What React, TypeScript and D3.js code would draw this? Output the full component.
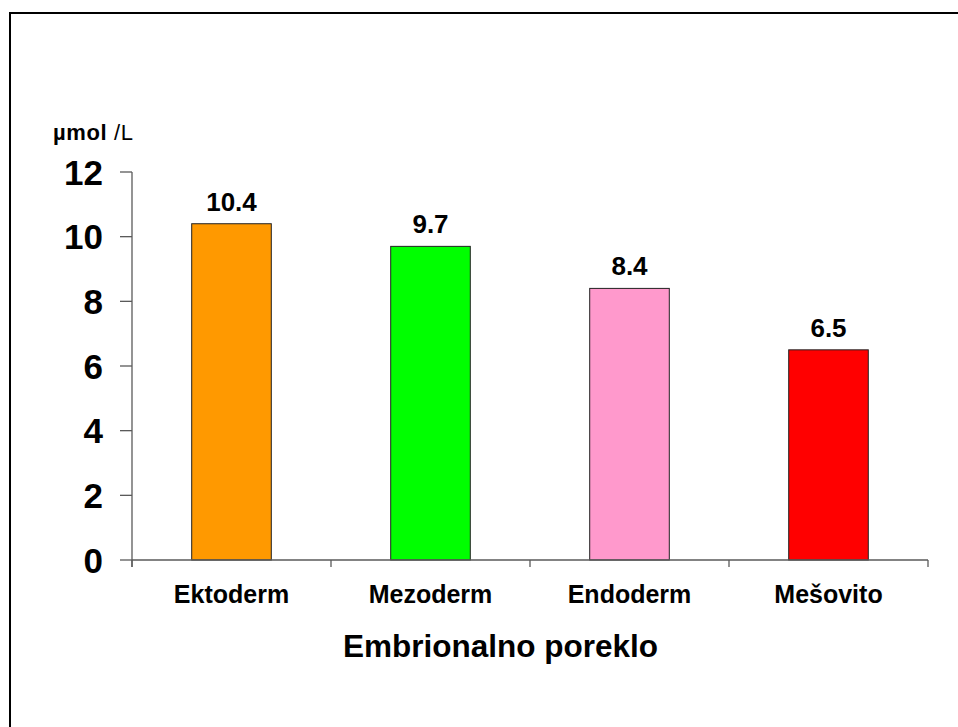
import React from "react";
import * as d3 from "d3";

const categories = ["Ektoderm", "Mezoderm", "Endoderm", "Mešovito"];
const values = [10.4, 9.7, 8.4, 6.5];
const colors = ["#FF9900", "#00FF00", "#FF99CC", "#FF0000"];
const yTicks = [0, 2, 4, 6, 8, 10, 12];
const xTitle = "Embrionalno poreklo";
const unitBold = "µmol";
const unitRegular = " /L";

const W = 958;
const H = 727;
const FONT = "'Liberation Sans', Arial, sans-serif";

export default function App() {
  const left = 132;
  const right = 928;
  const top = 172;
  const bottom = 560;

  const x = d3
    .scaleBand<string>()
    .domain(categories)
    .range([left, right])
    .paddingInner(0.6)
    .paddingOuter(0.3);
  const y = d3.scaleLinear().domain([0, 12]).range([bottom, top]);
  const step = x.step();
  const boundaries = d3.range(categories.length + 1).map((i) => left + i * step);
  const axisColor = "#5a5a5a";

  return (
    <svg
      width={W}
      height={H}
      style={{ position: "absolute", left: 0, top: 0, background: "#fff" }}
      fontFamily={FONT}
    >
      <rect x={10} y={13} width={W + 20} height={H + 20} fill="#fff" stroke="#000" strokeWidth={2} />

      {/* unit label */}
      <text x={53} y={140} fontSize={22} fill="#000" letterSpacing={0.6}>
        <tspan fontWeight="bold">{unitBold}</tspan>
        <tspan>{unitRegular}</tspan>
      </text>

      {/* bars */}
      {categories.map((c, i) => (
        <g key={c}>
          <rect
            x={x(c)!}
            y={y(values[i])}
            width={x.bandwidth()}
            height={y(0) - y(values[i])}
            fill={colors[i]}
            stroke="#222"
            strokeWidth={1}
          />
          <text
            x={x(c)! + x.bandwidth() / 2}
            y={y(values[i]) - 13}
            textAnchor="middle"
            fontSize={26}
            fontWeight="bold"
            fill="#000"
          >
            {values[i].toFixed(1)}
          </text>
          <text
            x={x(c)! + x.bandwidth() / 2}
            y={603}
            textAnchor="middle"
            fontSize={25}
            fontWeight="bold"
            fill="#000"
          >
            {c}
          </text>
        </g>
      ))}

      {/* y axis */}
      <line x1={left} x2={left} y1={y(12)} y2={bottom + 7} stroke={axisColor} strokeWidth={1.3} />
      {yTicks.map((t) => (
        <g key={t}>
          <line x1={left - 12} x2={left} y1={y(t)} y2={y(t)} stroke={axisColor} strokeWidth={1.3} />
          <text
            x={103}
            y={y(t)}
            dy="0.36em"
            textAnchor="end"
            fontSize={35}
            fontWeight="bold"
            fill="#000"
          >
            {t}
          </text>
        </g>
      ))}

      {/* x axis */}
      <line x1={left} x2={right} y1={bottom} y2={bottom} stroke={axisColor} strokeWidth={1.3} />
      {boundaries.map((b, i) => (
        <line key={i} x1={b} x2={b} y1={bottom} y2={bottom + 7} stroke={axisColor} strokeWidth={1.3} />
      ))}

      <text x={500.5} y={657} textAnchor="middle" fontSize={31.5} fontWeight="bold" fill="#000">
        {xTitle}
      </text>
    </svg>
  );
}
